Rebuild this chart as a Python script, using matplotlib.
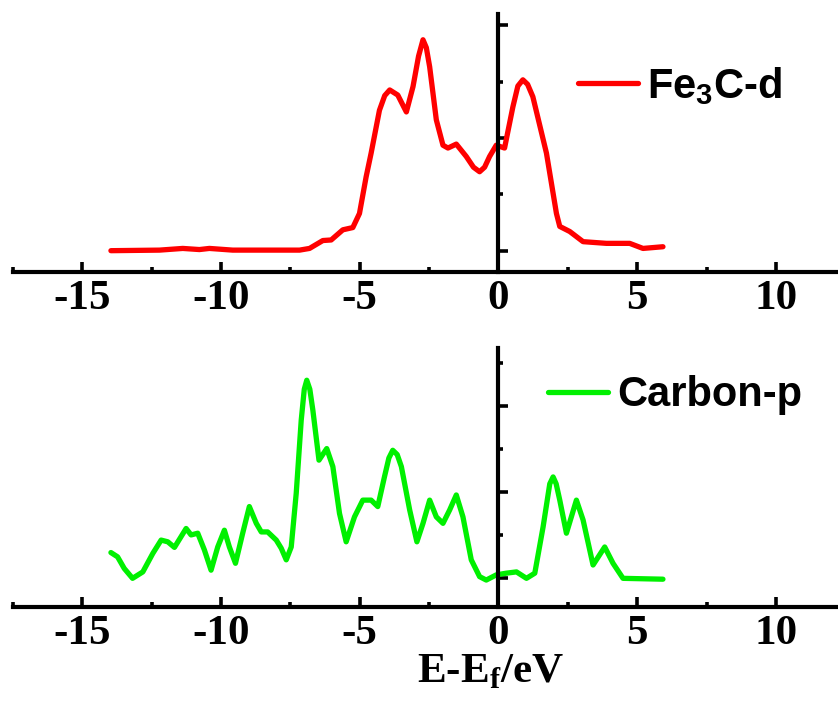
import numpy as np
import matplotlib
matplotlib.use("Agg")
import matplotlib.pyplot as plt
from matplotlib.ticker import MultipleLocator

plt.rcParams["axes.unicode_minus"] = False

# Fe3C-d partial DOS
fe_e = [-13.97, -12.22, -11.38, -10.78, -10.42, -9.58, -8.37, -7.17, -6.81,
        -6.33, -6.03, -5.61, -5.25, -5.01, -4.77, -4.59, -4.29, -4.1, -3.92,
        -3.63, -3.32, -3.08, -2.88, -2.72, -2.6, -2.48, -2.24, -2.0, -1.82,
        -1.52, -1.16, -0.9, -0.68, -0.5, -0.32, -0.08, 0.22, 0.52, 0.7, 0.88,
        1.05, 1.24, 1.73, 2.09, 2.21, 2.57, 3.05, 3.89, 4.73, 5.21, 5.93]
fe_dos = [0.0, 0.01, 0.04, 0.02, 0.04, 0.01, 0.01, 0.01, 0.04,
          0.18, 0.19, 0.37, 0.41, 0.66, 1.31, 1.73, 2.49, 2.75, 2.85,
          2.76, 2.46, 2.91, 3.45, 3.74, 3.6, 3.26, 2.32, 1.87, 1.82,
          1.89, 1.67, 1.48, 1.40, 1.48, 1.67, 1.87, 1.82, 2.55, 2.92, 3.03,
          2.95, 2.73, 1.73, 0.66, 0.43, 0.34, 0.16, 0.13, 0.13, 0.04, 0.07]

# Carbon-p partial DOS
c_e = [-13.97, -13.73, -13.49, -13.19, -12.82, -12.46, -12.16, -11.92, -11.68,
       -11.26, -11.08, -10.84, -10.6, -10.36, -10.12, -9.88, -9.70, -9.48,
       -9.22, -8.98, -8.73, -8.55, -8.32, -8.01, -7.83, -7.65, -7.47, -7.29,
       -7.11, -7.0, -6.91, -6.8, -6.69, -6.47, -6.19, -5.97, -5.73, -5.49,
       -5.19, -4.89, -4.59, -4.35, -4.11, -3.95, -3.81, -3.65, -3.50, -3.20,
       -2.94, -2.72, -2.48, -2.24, -2.0, -1.76, -1.52, -1.28, -0.98, -0.68,
       -0.44, -0.08, 0.28, 0.65, 1.01, 1.31, 1.61, 1.85, 1.97, 2.08, 2.21,
       2.45, 2.81, 3.05, 3.41, 3.83, 4.13, 4.49, 5.93]
c_dos = [0.60, 0.50, 0.23, 0.0, 0.15, 0.58, 0.89, 0.85, 0.72,
         1.16, 1.01, 1.05, 0.66, 0.19, 0.73, 1.12, 0.73, 0.35,
         1.05, 1.67, 1.28, 1.08, 1.08, 0.89, 0.70, 0.43, 0.73, 1.98,
         3.68, 4.4, 4.61, 4.4, 3.91, 2.75, 3.02, 2.60, 1.51, 0.85,
         1.43, 1.82, 1.82, 1.67, 2.36, 2.8, 2.98, 2.88, 2.60, 1.59,
         0.85, 1.28, 1.82, 1.43, 1.28, 1.59, 1.94, 1.43, 0.43, 0.04,
         -0.04, 0.08, 0.12, 0.15, 0.0, 0.12, 1.2, 2.2, 2.36, 2.2, 1.82,
         1.05, 1.82, 1.36, 0.31, 0.73, 0.35, 0.0, -0.02]

tick_font = {"family": "Liberation Serif", "weight": "bold", "size": 31}
leg_font = {"family": "Liberation Sans", "weight": "bold", "size": 30}

fig = plt.figure(figsize=(8.38, 7.04), dpi=100)
ax1 = fig.add_axes([13/838, 1-272/704, 825/838, 258/704])
ax2 = fig.add_axes([13/838, 1-606.7/704, 825/838, 258.7/704])

ax1.plot(fe_e, fe_dos, color="#ff0000", lw=3.8, solid_joinstyle="round",
         solid_capstyle="round", label="Fe$_\\mathregular{3}$C-d")
ax2.plot(c_e, c_dos, color="#00f000", lw=3.8, solid_joinstyle="round",
         solid_capstyle="round", label="Carbon-p")

ax1.set_ylim(-0.378, 4.197)
ax2.set_ylim(-0.66, 5.36)

for ax in (ax1, ax2):
    ax.set_xlim(-17.5, 12.24)
    ax.spines["top"].set_visible(False)
    ax.spines["right"].set_visible(False)
    ax.spines["left"].set_position(("data", 0))
    ax.spines["left"].set_linewidth(3)
    ax.spines["bottom"].set_linewidth(3)
    ax.xaxis.set_major_locator(MultipleLocator(5))
    ax.xaxis.set_minor_locator(MultipleLocator(2.5))
    ax.tick_params(axis="x", which="major", direction="in", length=7.5,
                   width=2.6, pad=6)
    ax.tick_params(axis="x", which="minor", direction="in", length=3.8,
                   width=2.6)
    ax.tick_params(axis="y", which="major", direction="in", length=7.5,
                   width=2.6, labelleft=False)
    ax.tick_params(axis="y", which="minor", direction="in", length=3.8,
                   width=2.6)
    for lab in ax.get_xticklabels():
        lab.set_fontproperties(tick_font)
    ax.yaxis.set_major_locator(MultipleLocator(2))
    ax.yaxis.set_minor_locator(MultipleLocator(1))

ax1.legend(loc="center left", bbox_to_anchor=(0.685, 0.721), frameon=False,
           prop=leg_font, handlelength=1.44, handletextpad=0.22,
           borderpad=0, borderaxespad=0)
ax2.legend(loc="center left", bbox_to_anchor=(0.648, 0.818), frameon=False,
           prop=leg_font, handlelength=1.44, handletextpad=0.22,
           borderpad=0, borderaxespad=0)

ax2.set_xlabel("E-E$_\\mathregular{f}$/eV", fontfamily="Liberation Serif",
               fontweight="bold", fontsize=31)
ax2.xaxis.set_label_coords(0.579, -0.291)
ax2.xaxis.label.set_va("baseline")

fig.savefig("out.png", dpi=100)
